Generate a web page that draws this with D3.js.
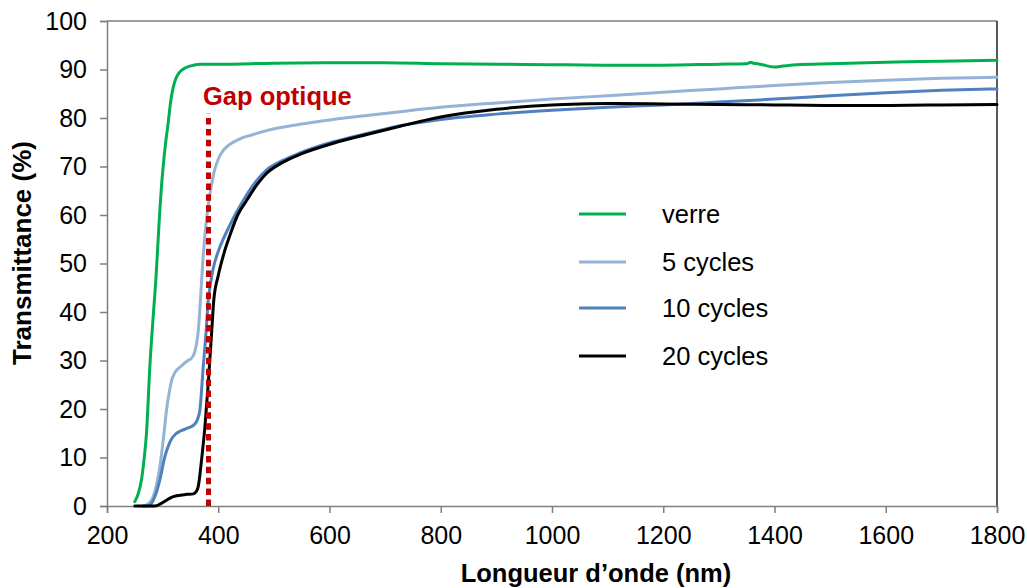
<!DOCTYPE html>
<html>
<head>
<meta charset="utf-8">
<script src="https://cdn.jsdelivr.net/npm/d3@7"></script>
<style>
  html, body { margin: 0; padding: 0; background: #fff; }
  svg { display: block; font-family: Arial, "Liberation Sans", sans-serif; }
</style>
</head>
<body>
<svg id="chart" width="1027" height="588"></svg>
<script>
// ---- Data ----
const xTicks = [200, 400, 600, 800, 1000, 1200, 1400, 1600, 1800];
const yTicks = [0, 10, 20, 30, 40, 50, 60, 70, 80, 90, 100];

const verreWl = [250, 256, 262, 266, 271, 277, 283, 288, 292, 295, 298, 301, 305, 310, 314, 319, 324, 331, 340, 349, 367, 400, 500, 600, 700, 800, 900, 1000, 1100, 1200, 1300, 1350, 1358, 1362, 1370, 1385, 1400, 1415, 1440, 1500, 1600, 1700, 1800];
const verreT  = [0.9, 2.5, 5.4, 9, 15, 28.7, 39, 47, 55, 61, 66, 70, 74.5, 79, 83, 86.3, 88.2, 89.5, 90.3, 90.7, 91.1, 91.1, 91.3, 91.4, 91.4, 91.2, 91.1, 91.0, 90.9, 90.9, 91.1, 91.2, 91.5, 91.3, 91.2, 90.8, 90.5, 90.7, 91.0, 91.2, 91.5, 91.7, 91.9];

const c5Wl = [265, 271, 283, 295, 302, 307, 312, 316, 322, 331, 343, 352, 357, 361, 364, 366, 368, 372, 377, 381, 385, 390, 394, 400, 409, 420, 439, 460, 487, 547, 607, 667, 727, 800, 900, 1000, 1100, 1200, 1300, 1400, 1500, 1600, 1700, 1800];
const c5T  = [0, 0.2, 1.9, 8.1, 14.5, 19.8, 23.5, 25.8, 27.5, 28.6, 29.8, 30.5, 31.5, 33.5, 36, 39, 42.5, 50, 57, 61, 64.3, 67.5, 69.5, 71.5, 73.3, 74.5, 75.7, 76.5, 77.4, 78.7, 79.7, 80.5, 81.3, 82.2, 83.1, 83.9, 84.6, 85.3, 86.0, 86.7, 87.3, 87.8, 88.2, 88.4];

const c10Wl = [265, 274, 286, 295, 304, 310, 316, 323, 331, 346, 355, 360, 364, 367, 373, 378, 382, 386, 390, 400, 410, 420, 432, 445, 465, 487, 515, 547, 607, 667, 727, 800, 900, 1000, 1100, 1200, 1300, 1400, 1500, 1600, 1700, 1800];
const c10T  = [0, 0, 1.9, 5.4, 10.2, 12.3, 13.8, 14.8, 15.4, 16.1, 16.6, 17.2, 18.3, 19.8, 28.7, 35.7, 42.5, 45.8, 48.5, 52.5, 55.3, 57.7, 60.4, 63, 66.5, 69.3, 71.2, 72.8, 75.1, 76.8, 78.4, 79.7, 80.8, 81.6, 82.2, 82.7, 83.3, 83.9, 84.6, 85.2, 85.7, 86.0];

const c20Wl = [250, 286, 297, 307, 316, 325, 343, 355, 360, 364, 370, 376, 382, 388, 392, 400, 410, 420, 435, 451, 470, 487, 515, 547, 607, 667, 727, 800, 900, 1000, 1050, 1100, 1200, 1300, 1400, 1500, 1600, 1700, 1800];
const c20T  = [0, 0, 0.5, 1.2, 1.8, 2.1, 2.4, 2.5, 2.9, 4, 9.5, 16.3, 25.3, 35.6, 42.5, 47.5, 52, 55.5, 60, 63, 66.3, 68.6, 70.8, 72.5, 74.8, 76.6, 78.3, 80.2, 81.8, 82.7, 82.9, 83.0, 82.9, 82.8, 82.7, 82.6, 82.6, 82.7, 82.8];

const seriesNames = ["verre", "5 cycles", "10 cycles", "20 cycles"];
const seriesColors = ["#00b050", "#95b3d7", "#4f81bd", "#000000"];

const gapWl = 382.5;
const gapTop = 81;
const gapLabel = "Gap optique";
const xTitle = "Longueur d\u2019onde (nm)";
const yTitle = "Transmittance (%)";

// ---- Build ----
const series = [
  {name: seriesNames[0], color: seriesColors[0], pts: verreWl.map((w, i) => [w, verreT[i]])},
  {name: seriesNames[1], color: seriesColors[1], pts: c5Wl.map((w, i) => [w, c5T[i]])},
  {name: seriesNames[2], color: seriesColors[2], pts: c10Wl.map((w, i) => [w, c10T[i]])},
  {name: seriesNames[3], color: seriesColors[3], pts: c20Wl.map((w, i) => [w, c20T[i]])}
];

const svg = d3.select("#chart");
const mLeft = 107, mRight = 997, mTop = 21, mBottom = 506;

const x = d3.scaleLinear().domain([200, 1800]).range([mLeft, mRight]);
const y = d3.scaleLinear().domain([0, 100]).range([mBottom, mTop]);

const axisColor = "#7f7f7f";

// top border & right border
svg.append("line").attr("x1", mLeft).attr("x2", mRight).attr("y1", mTop).attr("y2", mTop)
  .attr("stroke", axisColor).attr("stroke-width", 1.5);
svg.append("line").attr("x1", mRight).attr("x2", mRight).attr("y1", mTop).attr("y2", mBottom)
  .attr("stroke", "#000").attr("stroke-width", 1.3);

// Axes
const yAxis = svg.append("g").attr("transform", `translate(${mLeft},0)`)
  .call(d3.axisLeft(y).tickValues(yTicks).tickSize(7).tickPadding(13).tickFormat(d3.format("d")));
const xAxis = svg.append("g").attr("transform", `translate(0,${mBottom})`)
  .call(d3.axisBottom(x).tickValues(xTicks).tickSize(7).tickPadding(13).tickFormat(d3.format("d")));

[yAxis, xAxis].forEach(g => {
  g.select(".domain").attr("stroke", axisColor).attr("stroke-width", 1.5);
  g.selectAll(".tick line").attr("stroke", axisColor).attr("stroke-width", 1.5);
  g.selectAll(".tick text").attr("font-size", "25px").attr("fill", "#000")
    .attr("font-family", "Arial, 'Liberation Sans', sans-serif");
});

// Lines
const line = d3.line().x(d => x(d[0])).y(d => y(d[1])).curve(d3.curveMonotoneX);
svg.append("g").selectAll("path").data(series).join("path")
  .attr("d", d => line(d.pts))
  .attr("fill", "none")
  .attr("stroke", d => d.color)
  .attr("stroke-width", 3)
  .attr("stroke-linejoin", "round")
  .attr("stroke-linecap", "round");

// Gap optique dotted line
svg.append("line")
  .attr("x1", x(gapWl)).attr("x2", x(gapWl))
  .attr("y1", y(0)).attr("y2", y(gapTop))
  .attr("stroke", "#c00000").attr("stroke-width", 5)
  .attr("stroke-dasharray", "6.5,4.4");
svg.append("text").attr("x", 203).attr("y", 105)
  .attr("font-size", "25.5px").attr("font-weight", "bold").attr("fill", "#c00000")
  .text(gapLabel);

// Legend
const legY = [214, 262, 308, 356];
const leg = svg.append("g");
series.forEach((s, i) => {
  leg.append("line").attr("x1", 579).attr("x2", 626).attr("y1", legY[i]).attr("y2", legY[i])
    .attr("stroke", s.color).attr("stroke-width", 3);
  leg.append("text").attr("x", 662).attr("y", legY[i] + 9)
    .attr("font-size", "25.5px").attr("fill", "#000").text(s.name);
});

// Axis titles
svg.append("text").attr("x", 596).attr("y", 582).attr("text-anchor", "middle")
  .attr("font-size", "25.5px").attr("font-weight", "bold").attr("fill", "#000")
  .text(xTitle);
svg.append("text").attr("transform", "translate(31,253) rotate(-90)").attr("text-anchor", "middle")
  .attr("font-size", "26px").attr("font-weight", "bold").attr("fill", "#000")
  .text(yTitle);
</script>
</body>
</html>
